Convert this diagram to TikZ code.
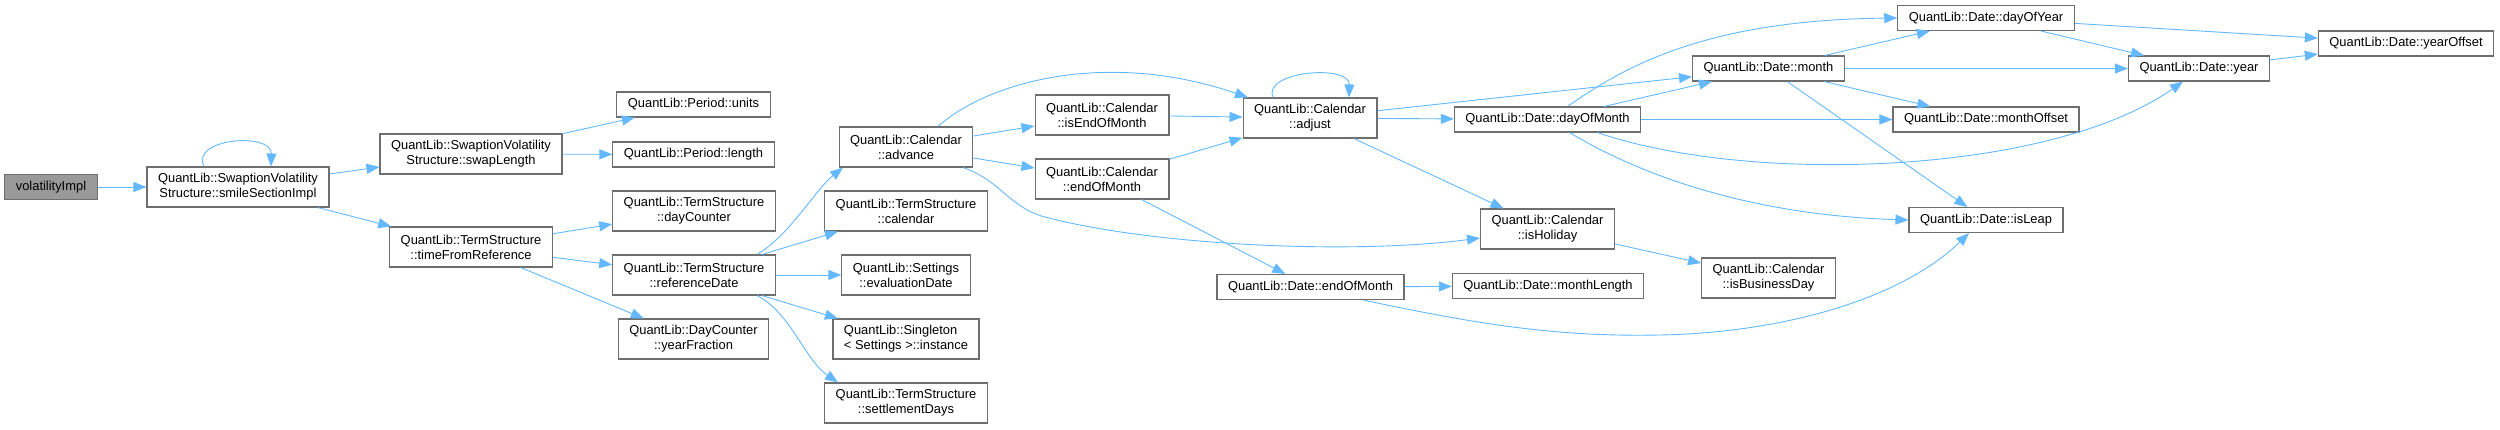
\documentclass[tikz,border=0pt]{standalone}
\usepackage{fontspec}
\setmainfont{Liberation Sans}
\usepackage{xcolor}
\usepackage{tikz}
\usetikzlibrary{arrows.meta}

\definecolor{callblue}{RGB}{99,184,255}
\definecolor{boxgray}{RGB}{110,110,110}
\definecolor{rootgray}{RGB}{153,153,153}

\tikzset{
  fnbox/.style={draw=boxgray, fill=white, line width=1.1pt, inner xsep=11pt, inner ysep=0pt,
    minimum height=25pt, align=center, font=\fontsize{12.9}{15}\selectfont},
  fnbox2/.style={fnbox, minimum height=40pt},
  callline/.style={->, draw=callblue, line width=0.9pt},
  >={Triangle[length=13pt,width=10pt]}
}

\begin{document}
\begin{tikzpicture}[x=1pt,y=-1pt]
  \useasboundingbox (0,0) rectangle (2500,429);
  % functions
  \node[fnbox, fill=rootgray] (vol) at (51,187) {volatilityImpl};
  \node[fnbox2] (smile) at (238,187) {QuantLib::SwaptionVolatility\\Structure::smileSectionImpl};
  \node[fnbox2] (swaplen) at (471,154) {QuantLib::SwaptionVolatility\\Structure::swapLength};
  \node[fnbox2] (timeref) at (471,247) {QuantLib::TermStructure\\::timeFromReference};
  \node[fnbox] (units) at (693.5,104.5) {QuantLib::Period::units};
  \node[fnbox] (length) at (693.5,154.5) {QuantLib::Period::length};
  \node[fnbox2] (daycnt) at (694,211) {QuantLib::TermStructure\\::dayCounter};
  \node[fnbox2] (refdate) at (694,275) {QuantLib::TermStructure\\::referenceDate};
  \node[fnbox2] (yearfrac) at (693.5,339) {QuantLib::DayCounter\\::yearFraction};
  \node[fnbox2] (advance) at (906,147) {QuantLib::Calendar\\::advance};
  \node[fnbox2] (calendar) at (906,211) {QuantLib::TermStructure\\::calendar};
  \node[fnbox2] (evaldate) at (906,275) {QuantLib::Settings\\::evaluationDate};
  \node[fnbox2, align=left] (instance) at (906,339) {QuantLib::Singleton\\< Settings >::instance};
  \node[fnbox2] (settle) at (906,403) {QuantLib::TermStructure\\::settlementDays};
  \node[fnbox2] (iseom) at (1102,115) {QuantLib::Calendar\\::isEndOfMonth};
  \node[fnbox2] (caleom) at (1102,179) {QuantLib::Calendar\\::endOfMonth};
  \node[fnbox2] (adjust) at (1310,118) {QuantLib::Calendar\\::adjust};
  \node[fnbox] (dateeom) at (1310.5,287) {QuantLib::Date::endOfMonth};
  \node[fnbox2] (holiday) at (1547.5,229) {QuantLib::Calendar\\::isHoliday};
  \node[fnbox] (dom) at (1547.5,119.5) {QuantLib::Date::dayOfMonth};
  \node[fnbox] (mlength) at (1548,286) {QuantLib::Date::monthLength};
  \node[fnbox] (month) at (1768.5,68.5) {QuantLib::Date::month};
  \node[fnbox2] (busday) at (1768.5,278) {QuantLib::Calendar\\::isBusinessDay};
  \node[fnbox] (doy) at (1986,18) {QuantLib::Date::dayOfYear};
  \node[fnbox] (moffset) at (1986,119.5) {QuantLib::Date::monthOffset};
  \node[fnbox] (isleap) at (1986,220) {QuantLib::Date::isLeap};
  \node[fnbox] (year) at (2199,68.5) {QuantLib::Date::year};
  \node[fnbox] (yoffset) at (2406,43.5) {QuantLib::Date::yearOffset};

  % calls
  \draw[callline] (vol) -- (smile);
  \draw[callline] ([xshift=-34pt]smile.north) .. controls (190,138) and (272,132) .. ([xshift=33pt]smile.north);
  \draw[callline] (smile) -- (swaplen);
  \draw[callline] (smile) -- (timeref);
  \draw[callline] (swaplen) -- (units);
  \draw[callline] (swaplen) -- (length);
  \draw[callline] (timeref) -- (daycnt);
  \draw[callline] (timeref) -- (refdate);
  \draw[callline] (timeref) -- (yearfrac);
  \draw[callline] ([xshift=63pt]refdate.north) .. controls (790,235) and (815,190) .. ([xshift=-63pt]advance.south);
  \draw[callline] (refdate) -- (calendar);
  \draw[callline] (refdate) -- (evaldate);
  \draw[callline] (refdate) -- (instance);
  \draw[callline] ([xshift=63pt]refdate.south) .. controls (790,312) and (805,360) .. ([xshift=-68pt]settle.north);
  \draw[callline] ([xshift=32pt]advance.north) .. controls (990,80) and (1110,50) .. ([xshift=-62pt]adjust.north);
  \draw[callline] (advance) -- (iseom);
  \draw[callline] (advance) -- (caleom);
  \draw[callline] ([xshift=57pt]advance.south) .. controls (1000,180) and (1010,208) .. (1045,217)
                  .. controls (1150,245) and (1350,255) .. ([yshift=-9pt]holiday.west);
  \draw[callline] (iseom) -- (adjust);
  \draw[callline] (caleom) -- (adjust);
  \draw[callline] (caleom) -- (dateeom);
  \draw[callline] ([xshift=-37pt]adjust.north) .. controls (1262,71) and (1350,64) .. ([xshift=39pt]adjust.north);
  \draw[callline] (adjust) -- (month);
  \draw[callline] (adjust) -- (dom);
  \draw[callline] (adjust) -- (holiday);
  \draw[callline] (dom) -- (month);
  \draw[callline] ([xshift=20pt]dom.north) .. controls (1620,70) and (1700,20) .. (doy.west);
  \draw[callline] (dom) -- (moffset);
  \draw[callline] ([xshift=50pt]dom.south) .. controls (1750,185) and (2050,175) .. ([xshift=-16pt]year.south);
  \draw[callline] ([xshift=22pt]dom.south) .. controls (1640,175) and (1750,215) .. (isleap.west);
  \draw[callline] (month) -- (doy);
  \draw[callline] (month) -- (year);
  \draw[callline] (month) -- (moffset);
  \draw[callline] (month) -- (isleap);
  \draw[callline] (doy) -- (year);
  \draw[callline] (doy) -- (yoffset);
  \draw[callline] (year) -- (yoffset);
  \draw[callline] (holiday) -- (busday);
  \draw[callline] (dateeom) -- (mlength);
  \draw[callline] ([xshift=53pt]dateeom.south) .. controls (1480,325) and (1560,337) .. (1659,335)
                  .. controls (1780,333) and (1900,300) .. ([xshift=-17pt]isleap.south);
\end{tikzpicture}
\end{document}
